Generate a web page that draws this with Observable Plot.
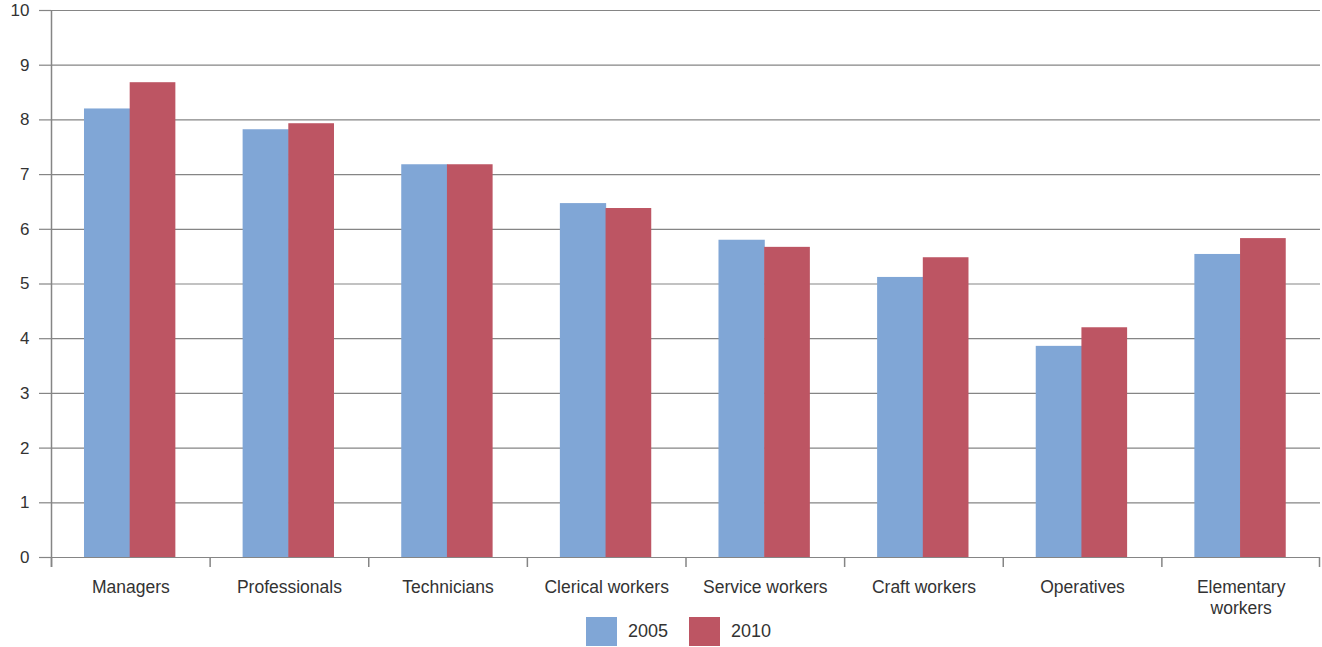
<!DOCTYPE html>
<html>
<head>
<meta charset="utf-8">
<script src="https://cdn.jsdelivr.net/npm/d3@7"></script>
<script src="https://cdn.jsdelivr.net/npm/@observablehq/plot@0.6"></script>
<style>
  body { margin: 0; background: #fff; font-family: "Liberation Sans", Arial, sans-serif; }
  #chart svg { overflow: visible; display: block; }
  #legend { display: flex; align-items: center; height: 37px; padding-top: 3px; padding-left: 586px; color: #333; font-size: 18px; }
  .sw { width: 31px; height: 29px; margin-right: 11px; }
  .item { display: flex; align-items: center; margin-right: 21px; }
</style>
</head>
<body>
<div id="chart"></div>
<div id="legend"></div>
<script>
const categories = ["Managers", "Professionals", "Technicians", "Clerical workers", "Service workers", "Craft workers", "Operatives", "Elementary\nworkers"];
const values2005 = [8.2, 7.82, 7.18, 6.47, 5.8, 5.12, 3.86, 5.54];
const values2010 = [8.68, 7.93, 7.18, 6.38, 5.67, 5.48, 4.2, 5.83];
const years = ["2005", "2010"];
const colors = ["#80A6D6", "#BD5563"];
const yTicks = [0, 1, 2, 3, 4, 5, 6, 7, 8, 9, 10];

const W = 1322, H = 610;
const mL = 51, mR = 2, mT = 10, mB = 53;
const step = (W - mL - mR) / categories.length;
const outer = 0.208 * step, barW = 0.288 * step;

const rows2005 = categories.map((c, i) => ({category: c, year: "2005", value: values2005[i]}));
const rows2010 = categories.map((c, i) => ({category: c, year: "2010", value: values2010[i]}));
const gray = "#858585";

const chart = Plot.plot({
  width: W, height: H,
  marginLeft: mL, marginRight: mR, marginTop: mT, marginBottom: mB,
  style: {fontFamily: "Liberation Sans, Arial, sans-serif", fontSize: "17px", color: "#333", overflow: "visible"},
  x: {domain: categories, padding: 0, round: false, label: null},
  y: {domain: [0, 10], ticks: yTicks, label: null},
  color: {domain: years, range: colors},
  marks: [
    Plot.gridY(yTicks, {stroke: gray, strokeOpacity: 1, strokeWidth: 1.2}),
    Plot.axisY(yTicks, {tickSize: 12, tickPadding: 10, stroke: gray, strokeWidth: 1.2, fontSize: 17, tickFormat: d3.format("d"), label: null}),
    Plot.barY(rows2005, {x: "category", y: "value", fill: "year", insetLeft: outer, insetRight: step - outer - barW - 0.6}),
    Plot.barY(rows2010, {x: "category", y: "value", fill: "year", insetLeft: outer + barW, insetRight: step - outer - 2 * barW}),
    Plot.ruleY([0], {stroke: gray, strokeWidth: 1.2}),
    Plot.ruleX(categories, {x: d => d, dx: -step / 2, insetTop: H - mT - mB, insetBottom: -10, stroke: gray, strokeWidth: 1.5}),
    Plot.ruleX([categories[categories.length - 1]], {x: d => d, dx: step / 2 - 1, insetTop: H - mT - mB, insetBottom: -10, stroke: gray, strokeWidth: 1.5}),
    Plot.ruleX([categories[0]], {x: d => d, dx: -step / 2, insetBottom: -10, stroke: gray, strokeWidth: 1.5}),
    Plot.axisX({tickSize: 0, tickPadding: 21, fontSize: 17.5, lineHeight: 1.2, label: null})
  ]
});
document.getElementById("chart").appendChild(chart);

const legend = document.getElementById("legend");
years.forEach((y, i) => {
  const item = document.createElement("div");
  item.className = "item";
  const sw = document.createElement("div");
  sw.className = "sw";
  sw.style.background = colors[i];
  const t = document.createElement("span");
  t.textContent = y;
  item.appendChild(sw);
  item.appendChild(t);
  legend.appendChild(item);
});
</script>
</body>
</html>
